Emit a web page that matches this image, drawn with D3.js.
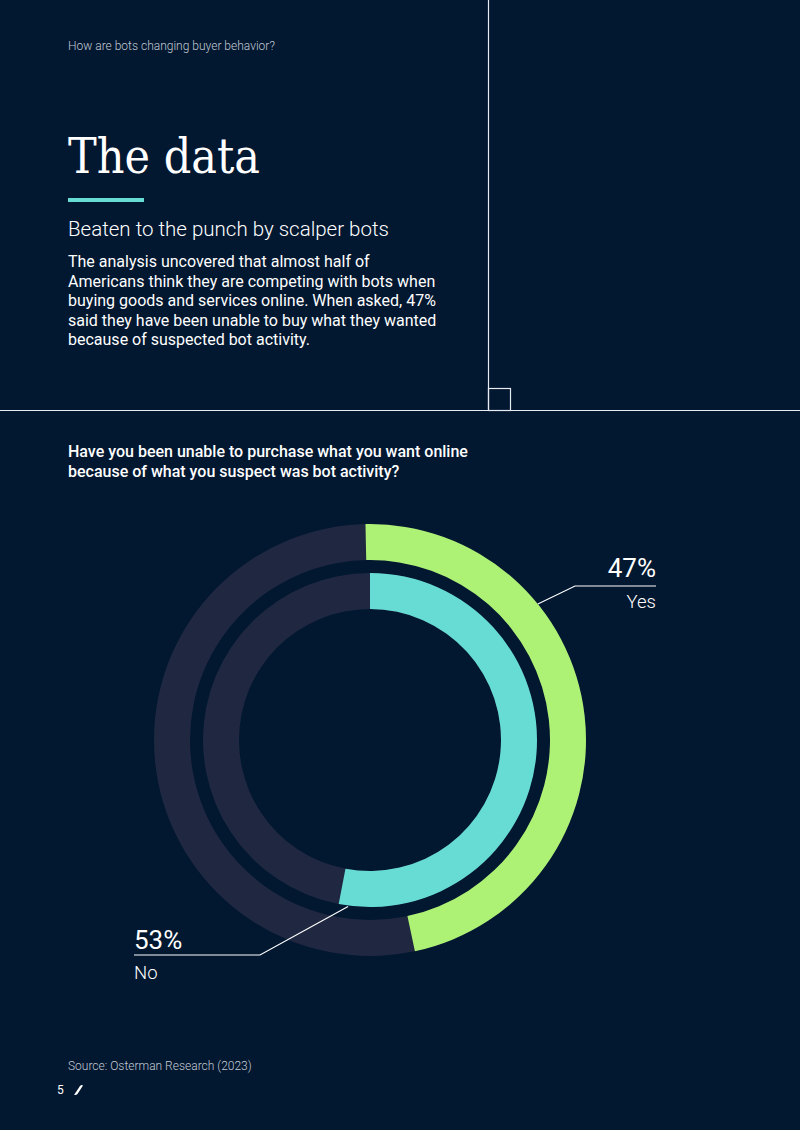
<!DOCTYPE html>
<html>
<head>
<meta charset="utf-8">
<script src="https://cdn.jsdelivr.net/npm/d3@7"></script>
<style>
  html, body { margin: 0; padding: 0; background: #021730; }
  svg { display: block; }
</style>
</head>
<body>
<script>
// Data
const ringKeys = ["Yes", "No"];
const ringValues = [47, 53];
const ringLabels = ["47%", "53%"];
const introLines = [
    "The analysis uncovered that almost half of",
    "Americans think they are competing with bots when",
    "buying goods and services online. When asked, 47%",
    "said they have been unable to buy what they wanted",
    "because of suspected bot activity."
];
const questionLines = [
    "Have you been unable to purchase what you want online",
    "because of what you suspect was bot activity?"
];

const width = 800, height = 1130;
const bg = "#021730", track = "#1f2840";
const colors = d3.scaleOrdinal().domain(ringKeys).range(["#adf275", "#67dcd5"]);

const svg = d3.select("body").append("svg")
    .attr("width", width)
    .attr("height", height);

svg.append("rect").attr("width", width).attr("height", height).attr("fill", bg);

// cadre du haut
svg.append("line").attr("x1", 488.5).attr("x2", 488.5).attr("y1", 0).attr("y2", 410)
    .attr("stroke", "#e8ecf0").attr("stroke-width", 1.2);
svg.append("line").attr("x1", 0).attr("x2", width).attr("y1", 410.5).attr("y2", 410.5)
    .attr("stroke", "#e8ecf0").attr("stroke-width", 1.2);
svg.append("rect").attr("x", 488.5).attr("y", 388.5).attr("width", 22).attr("height", 22)
    .attr("fill", "none").attr("stroke", "#e8ecf0").attr("stroke-width", 1.2);

// textes
svg.append("text").attr("x", 68).attr("y", 50)
    .attr("font-family", "Roboto").attr("font-weight", 300).attr("font-size", 12)
    .attr("fill", "#c3cad4").text("How are bots changing buyer behavior?");

svg.append("text").attr("x", 68).attr("y", 173)
    .attr("font-family", "'DejaVu Serif', serif").attr("font-size", 48)
    .attr("textLength", 192).attr("lengthAdjust", "spacingAndGlyphs")
    .attr("fill", "#ffffff").text("The data");

svg.append("rect").attr("x", 68).attr("y", 198).attr("width", 76).attr("height", 4).attr("fill", "#67dcd5");

svg.append("text").attr("x", 68).attr("y", 236)
    .attr("font-family", "Roboto").attr("font-weight", 300).attr("font-size", 20.5)
    .attr("fill", "#ffffff").text("Beaten to the punch by scalper bots");

svg.append("g").selectAll("text").data(introLines).enter().append("text")
    .attr("x", 68).attr("y", (d, i) => 267 + i * 19.6)
    .attr("font-family", "Roboto").attr("font-size", 16)
    .attr("fill", "#ffffff").text(d => d);

svg.append("g").selectAll("text").data(questionLines).enter().append("text")
    .attr("x", 68).attr("y", (d, i) => 457 + i * 20)
    .attr("font-family", "Roboto").attr("font-weight", 500).attr("font-size", 16)
    .attr("fill", "#ffffff").text(d => d);

// anneaux
const cx = 370, cy = 740;
const rings = [
    { key: ringKeys[0], value: ringValues[0], inner: 180, outer: 216, start: -1.2 },
    { key: ringKeys[1], value: ringValues[1], inner: 131, outer: 167, start: 0 }
];
const angle = d3.scaleLinear().domain([0, 100]).range([0, 2 * Math.PI]);
const deg = Math.PI / 180;
const arc = d3.arc();

const chart = svg.append("g").attr("transform", `translate(${cx},${cy})`);

chart.selectAll(".track").data(rings).enter().append("path")
    .attr("class", "track")
    .attr("fill", track)
    .attr("d", d => arc({ innerRadius: d.inner, outerRadius: d.outer, startAngle: 0, endAngle: 2 * Math.PI }));

chart.selectAll(".value").data(rings).enter().append("path")
    .attr("class", "value")
    .attr("fill", d => colors(d.key))
    .attr("d", d => arc({
        innerRadius: d.inner, outerRadius: d.outer,
        startAngle: d.start * deg, endAngle: d.start * deg + angle(d.value)
    }));

// étiquettes avec lignes de rappel
const callouts = [
    { i: 0, a: 51, r: 216, elbow: [575, 586], end: 656, anchor: "end", pctY: 577, keyY: 608 },
    { i: 1, a: 187.5, r: 168, elbow: [260, 955], end: 134, anchor: "start", pctY: 949, keyY: 979 }
];

callouts.forEach(c => {
    const px = cx + c.r * Math.sin(c.a * deg), py = cy - c.r * Math.cos(c.a * deg);
    svg.append("path")
        .attr("d", d3.line()([[px, py], c.elbow, [c.end, c.elbow[1]]]))
        .attr("fill", "none").attr("stroke", "#ffffff").attr("stroke-width", 1.2);
    svg.append("text").attr("x", c.end).attr("y", c.pctY)
        .attr("text-anchor", c.anchor)
        .attr("font-family", "Roboto").attr("font-size", 26)
        .attr("fill", "#ffffff").text(ringLabels[c.i]);
    svg.append("text").attr("x", c.end).attr("y", c.keyY)
        .attr("text-anchor", c.anchor)
        .attr("font-family", "Roboto").attr("font-weight", 300).attr("font-size", 18.5)
        .attr("fill", "#ffffff").text(ringKeys[c.i]);
});

// pied de page
svg.append("text").attr("x", 68).attr("y", 1070)
    .attr("font-family", "Roboto").attr("font-weight", 300).attr("font-size", 12)
    .attr("fill", "#c3cad4").text("Source: Osterman Research (2023)");

svg.append("text").attr("x", 57).attr("y", 1094)
    .attr("font-family", "Roboto").attr("font-size", 12)
    .attr("fill", "#ffffff").text("5");

svg.append("path")
    .attr("d", "M74,1095 L80,1086 Q81.5,1084.5 83,1085.5 L77.5,1094 Q76.5,1095.3 74,1095 Z")
    .attr("fill", "#ffffff");
</script>
</body>
</html>
